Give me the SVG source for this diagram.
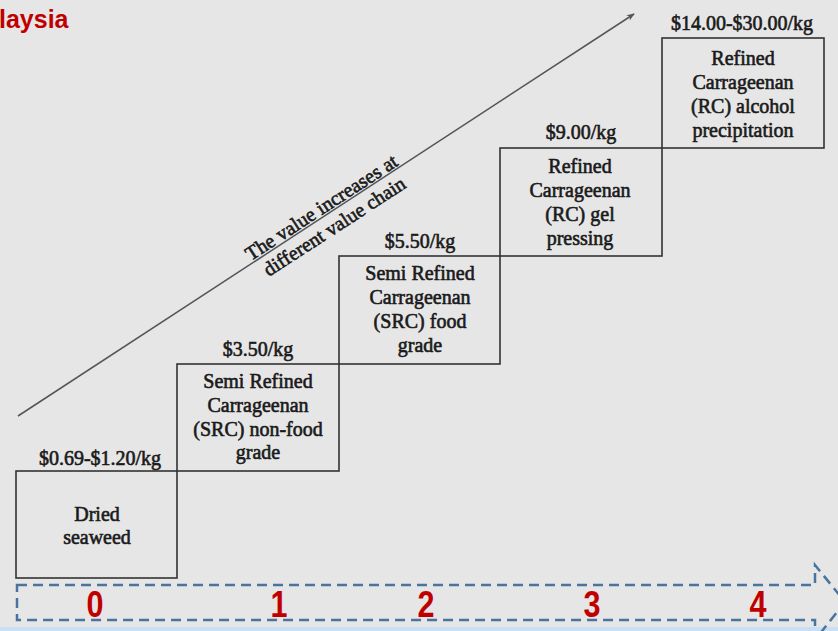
<svg xmlns="http://www.w3.org/2000/svg" width="838" height="631" viewBox="0 0 838 631">
<defs>
<style>
.bg{fill:#e6e6e6}
.box{fill:none;stroke:#333;stroke-width:1.6}
.t{font-family:"Liberation Serif","Times New Roman",serif;font-size:20px;fill:#1a1a1a;stroke:#1a1a1a;stroke-width:0.6;text-anchor:middle}
.num{font-family:"Liberation Sans",Arial,sans-serif;font-weight:bold;font-size:36px;fill:#c00000;text-anchor:middle}
.title{font-family:"Liberation Sans",Arial,sans-serif;font-weight:bold;font-size:25px;fill:#c00000}
.conn{fill:none;stroke:#555;stroke-width:1.5}
.dash{fill:none;stroke:#4a74a0;stroke-width:2.5;stroke-dasharray:10 6}
</style>
<marker id="ah" viewBox="0 0 10 10" refX="9" refY="5" markerWidth="8" markerHeight="8" orient="auto" markerUnits="userSpaceOnUse">
<path d="M0,1 L10,5 L0,9 L3,5 Z" fill="#555"/>
</marker>
</defs>
<rect class="bg" x="0" y="0" width="838" height="631"/>
<rect x="0" y="627" width="838" height="4" fill="#c9dff3"/>
<text class="title" x="-1" y="28">laysia</text>

<g id="connectors">
<line class="conn" x1="18" y1="416" x2="634" y2="14" marker-end="url(#ah)"/>
</g>

<g id="value-label">
<text class="t" transform="translate(325,213) rotate(-33)">The value increases at</text>
<text class="t" transform="translate(338,232) rotate(-33)">different value chain</text>
</g>

<g id="step0">
<rect class="box" x="16" y="471" width="161" height="107"/>
<text class="t" x="100" y="465">$0.69-$1.20/kg</text>
<text class="t" x="97" y="521">Dried</text>
<text class="t" x="97" y="544">seaweed</text>
</g>

<g id="step1">
<rect class="box" x="177" y="364" width="162" height="107"/>
<text class="t" x="258" y="356">$3.50/kg</text>
<text class="t" x="258" y="388">Semi Refined</text>
<text class="t" x="258" y="412">Carrageenan</text>
<text class="t" x="258" y="436">(SRC) non-food</text>
<text class="t" x="258" y="459">grade</text>
</g>

<g id="step2">
<rect class="box" x="339" y="256" width="161" height="108"/>
<text class="t" x="420" y="248">$5.50/kg</text>
<text class="t" x="420" y="280">Semi Refined</text>
<text class="t" x="420" y="304">Carrageenan</text>
<text class="t" x="420" y="328">(SRC) food</text>
<text class="t" x="420" y="352">grade</text>
</g>

<g id="step3">
<rect class="box" x="500" y="148" width="162" height="108"/>
<text class="t" x="581" y="139">$9.00/kg</text>
<text class="t" x="580" y="173">Refined</text>
<text class="t" x="580" y="197">Carrageenan</text>
<text class="t" x="580" y="221">(RC) gel</text>
<text class="t" x="580" y="245">pressing</text>
</g>

<g id="step4">
<rect class="box" x="662" y="38" width="162" height="110"/>
<text class="t" x="742" y="30">$14.00-$30.00/kg</text>
<text class="t" x="743" y="65">Refined</text>
<text class="t" x="743" y="89">Carrageenan</text>
<text class="t" x="743" y="113">(RC) alcohol</text>
<text class="t" x="743" y="137">precipitation</text>
</g>

<g id="stage-arrow">
<path class="dash" d="M17,585 H815 V565 L845,602 L815,640 V620 H17 Z"/>
<text class="num" x="95" y="617" textLength="17" lengthAdjust="spacingAndGlyphs">0</text>
<text class="num" x="279" y="617" textLength="17" lengthAdjust="spacingAndGlyphs">1</text>
<text class="num" x="426" y="617" textLength="17" lengthAdjust="spacingAndGlyphs">2</text>
<text class="num" x="592" y="617" textLength="17" lengthAdjust="spacingAndGlyphs">3</text>
<text class="num" x="758" y="617" textLength="17" lengthAdjust="spacingAndGlyphs">4</text>
</g>
</svg>
